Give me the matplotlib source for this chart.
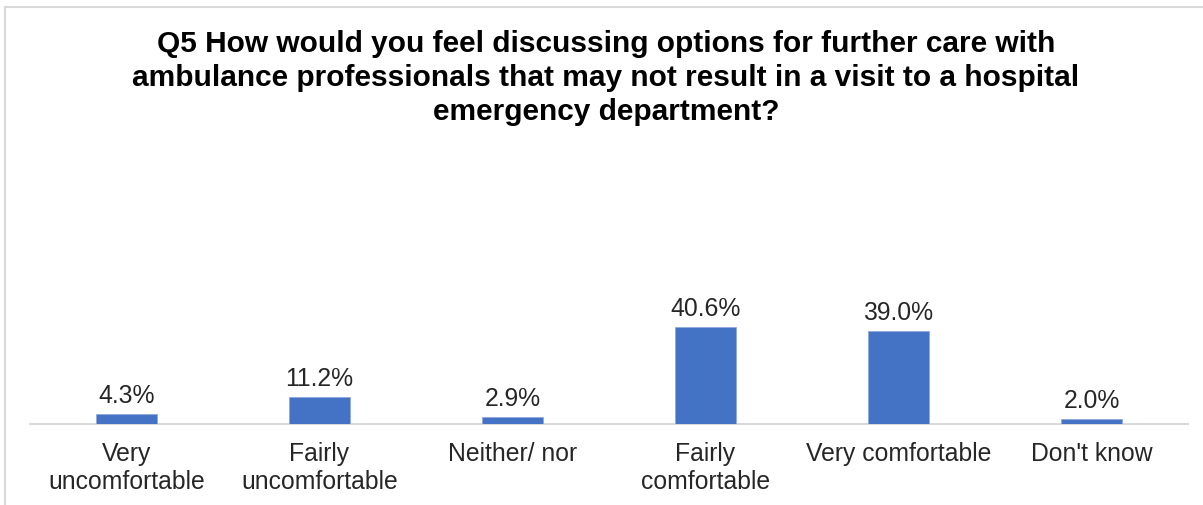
import matplotlib
matplotlib.use("Agg")
import matplotlib.pyplot as plt
from matplotlib.lines import Line2D

categories = ["Very\nuncomfortable", "Fairly\nuncomfortable", "Neither/ nor",
              "Fairly\ncomfortable", "Very comfortable", "Don't know"]
values = [4.3, 11.2, 2.9, 40.6, 39.0, 2.0]
value_labels = ["4.3%", "11.2%", "2.9%", "40.6%", "39.0%", "2.0%"]
title = ("Q5 How would you feel discussing options for further care with\n"
         "ambulance professionals that may not result in a visit to a hospital\n"
         "emergency department?")

plt.rcParams["font.family"] = ["Liberation Sans", "DejaVu Sans"]

W, H = 1203, 506
fig = plt.figure(figsize=(W / 100, H / 100), dpi=100)

# plot area in pixels: x 30..1188, baseline at y=425, top at y=140
ax = fig.add_axes([30 / W, (H - 425) / H, 1158 / W, 285 / H])
x = range(len(values))
ax.bar(x, values, width=0.315, color="#4472C4", edgecolor="#8FAADC", linewidth=0.6, zorder=3)
ax.set_xlim(-0.5, len(values) - 0.5)
ax.set_ylim(0, 285 / 2.39)

for xi, v, lab in zip(x, values, value_labels):
    ax.annotate(lab, (xi, v), xytext=(0, 5), textcoords="offset points",
                ha="center", va="bottom", fontsize=17.8, color="#262626")

ax.set_xticks(list(x))
ax.set_xticklabels(categories, fontsize=17.8, color="#262626", linespacing=1.25)
ax.tick_params(axis="x", length=0, pad=12)
ax.set_yticks([])
for s in ["top", "right", "left"]:
    ax.spines[s].set_visible(False)
ax.spines["bottom"].set_color("#D9D9D9")
ax.spines["bottom"].set_linewidth(1.5)

fig.text(606 / W, 1 - 78 / H, title, ha="center", va="center",
         fontsize=21.5, fontweight="bold", color="black", linespacing=1.27)

# outer chart frame (left and top edges visible)
fig.add_artist(Line2D([5 / W, 5 / W], [0, 1 - 8 / H], transform=fig.transFigure,
                      color="#D9D9D9", linewidth=1.5))
fig.add_artist(Line2D([5 / W, 1], [1 - 8 / H, 1 - 8 / H], transform=fig.transFigure,
                      color="#D9D9D9", linewidth=1.5))

fig.savefig("out.png", dpi=100)
plt.close(fig)
